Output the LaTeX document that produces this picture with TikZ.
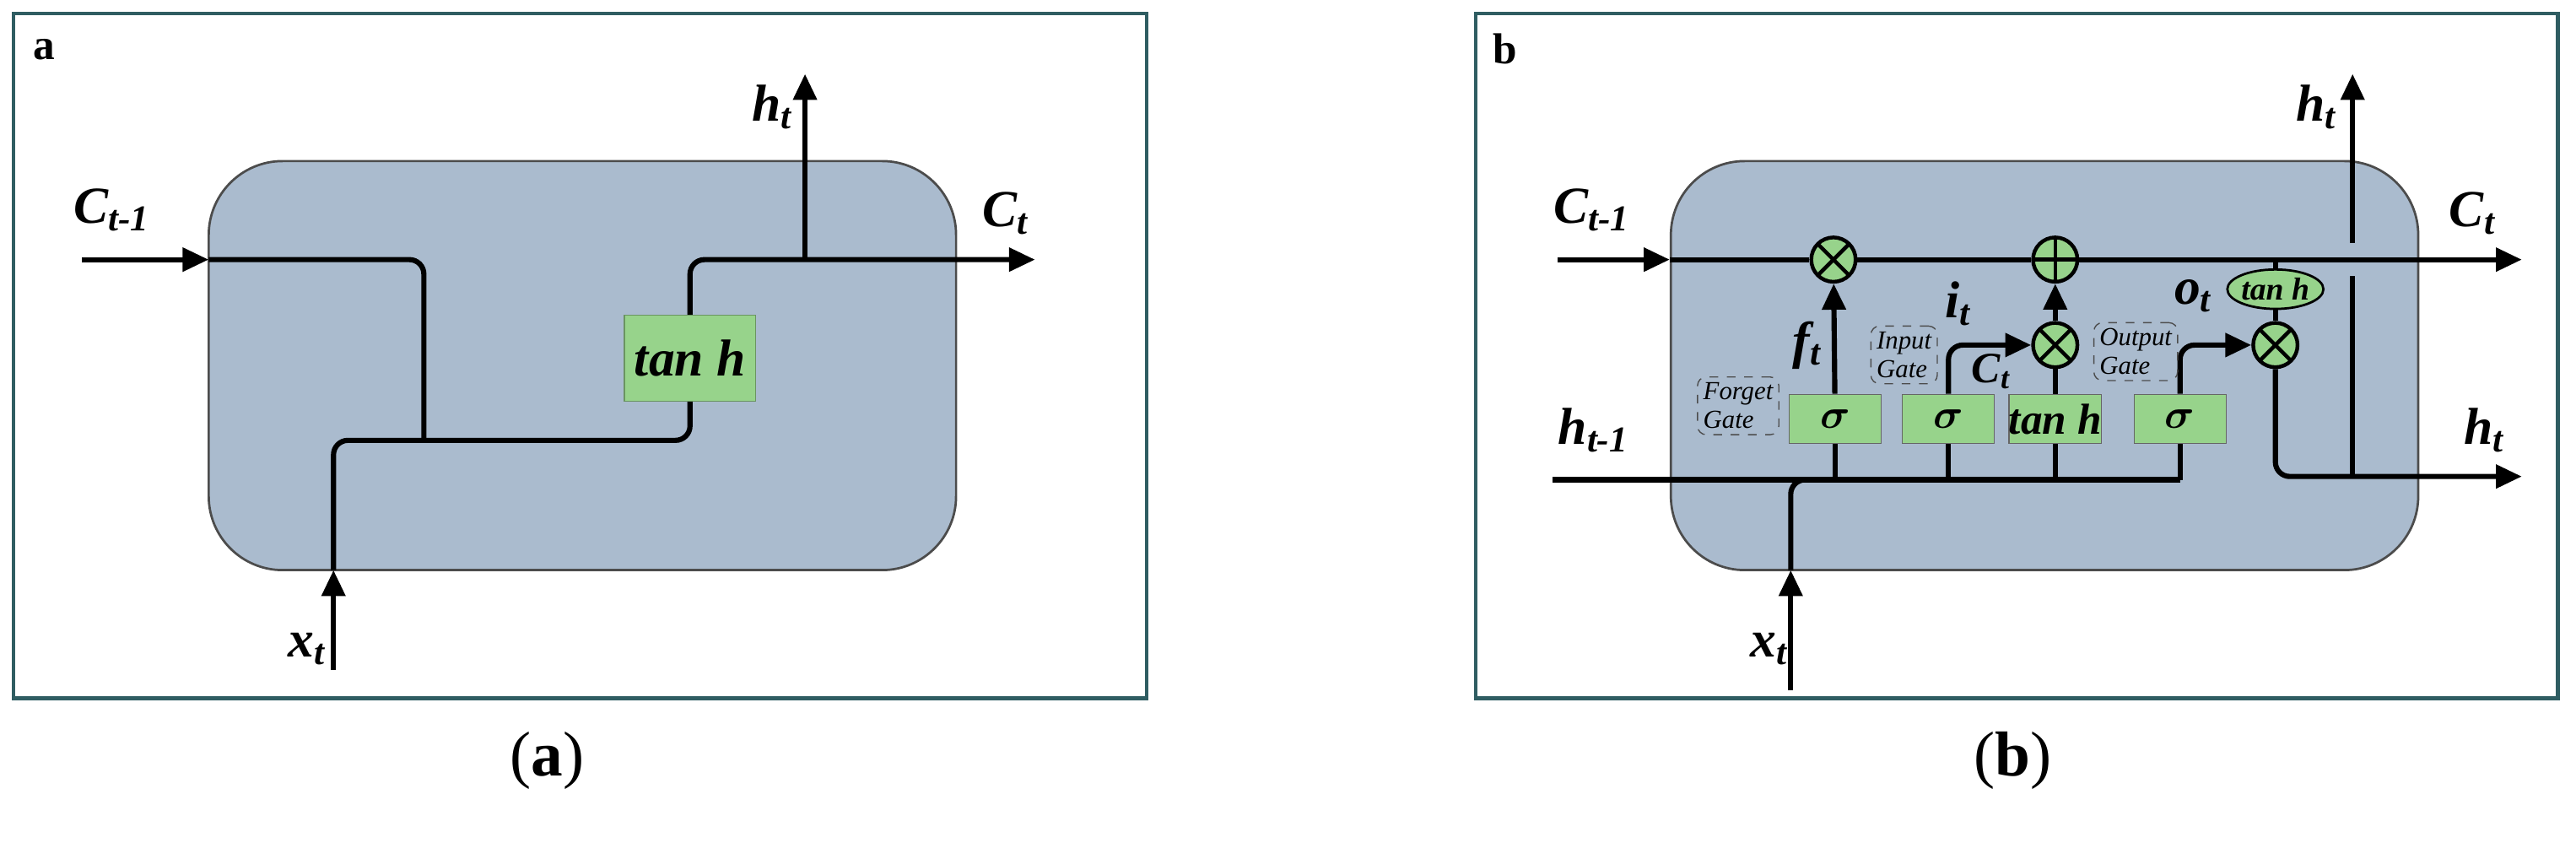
\documentclass[tikz,border=0pt]{standalone}
\usepackage{amsmath}
\usepackage{fontspec}
\setmainfont{Liberation Serif}
\usetikzlibrary{arrows.meta,positioning,shapes.geometric}
\definecolor{cellfill}{HTML}{AABBCE}
\definecolor{gatefill}{HTML}{97D38B}
\definecolor{framecol}{HTML}{2F5D62}
\newcommand{\lbl}[2]{\textbf{\textit{#1\textsubscript{#2}}}}
\tikzset{
	frame/.style = {draw = framecol, line width = 1.2pt},
	cell/.style = {draw = black!70, fill = cellfill, rounded corners = 0.9cm, line width = 0.8pt,
		minimum width = 9.1cm, minimum height = 4.98cm, inner sep = 0pt},
	wire/.style = {line width = 1.8pt, rounded corners = 5pt},
	flow/.style = {wire, -{Triangle[length = 9pt, width = 8pt]}},
	gate/.style = {draw = black!60, fill = gatefill, minimum width = 1.12cm, minimum height = 0.6cm,
		inner sep = 0pt, font = \fontsize{15}{15}\selectfont\bfseries\itshape},
	mult/.style = {circle, draw, fill = gatefill, line width = 1.3pt, minimum size = 0.54cm, inner sep = 0pt,
		path picture = {\draw [line width = 1.3pt] (path picture bounding box.north west) -- (path picture bounding box.south east)
			(path picture bounding box.north east) -- (path picture bounding box.south west);}},
	plus/.style = {mult, path picture = {\draw [line width = 1.3pt] (path picture bounding box.north) -- (path picture bounding box.south)
			(path picture bounding box.east) -- (path picture bounding box.west);}},
	note/.style = {draw = black!70, dashed, rounded corners = 3pt, align = left, inner sep = 2pt,
		font = \fontsize{9}{10}\selectfont\itshape},
	tag/.style = {font = \fontsize{18}{18}\selectfont}
}
\begin{document}
\begin{tikzpicture}[x = 0.02cm, y = -0.02cm]
	\useasboundingbox (0,0) rectangle (1568,512.6);
	% panel a
	\node [frame, minimum width = 13.8cm, minimum height = 8.34cm] (frameA) at (353,216.5) {};
	\node [font = \fontsize{15}{15}\selectfont\bfseries] (nameA) at (27,30) {a};
	\node [cell] (cellA) at (354.5,222.5) {};
	\coordinate (cinA) at (50,158);
	\coordinate (cjA) at (127,158);
	\coordinate (xinA) at (203,408);
	\coordinate (xjA) at (203,347);
	\coordinate (hjA) at (490,158);
	\coordinate (houtA) at (490,45);
	\coordinate (coutA) at (630,158);
	\draw [flow] (cinA) -- (cjA);
	\draw [wire] (cjA) -- (258,158) -- (258,268);
	\draw [flow] (xinA) -- (xjA);
	\draw [wire, -{Triangle[length = 9pt, width = 8pt]}] (xjA) -- (203,268) -- (420,268) -- (420,158) -- (coutA);
	\draw [flow] (hjA) -- (houtA);
	\node [gate, minimum width = 1.6cm, minimum height = 1.05cm, draw = gatefill!70!black,
		font = \fontsize{18}{18}\selectfont\bfseries\itshape] (tanhA) at (420,218) {tan h};
	\node [tag] at (68,128) {\lbl{C}{t-1}};
	\node [tag] at (470,65) {\lbl{h}{t}};
	\node [tag] at (612,130) {\lbl{C}{t}};
	\node [tag] at (187,395) {\lbl{x}{t}};
	\node [font = \fontsize{22}{22}\selectfont] (capA) at (333,463) {(\textbf{a})};
	% panel b
	\node [frame, minimum width = 13.18cm, minimum height = 8.34cm] (frameB) at (1227.5,216.5) {};
	\node [font = \fontsize{15}{15}\selectfont\bfseries] (nameB) at (916,30) {b};
	\node [cell] (cellB) at (1244.5,222.5) {};
	\node [mult] (fmul) at (1116,158) {};
	\node [plus] (cadd) at (1251,158) {};
	\node [mult] (imul) at (1251,210) {};
	\node [mult] (omul) at (1385,210) {};
	\node [ellipse, draw, fill = gatefill, line width = 0.8pt, minimum width = 1.02cm, minimum height = 0.48cm, inner sep = 0pt,
		font = \fontsize{11}{11}\selectfont\bfseries\itshape] (otanh) at (1385,176) {tan h};
	\node [gate] (fgate) at (1117,255) {$\boldsymbol{\sigma}$};
	\node [gate] (igate) at (1186,255) {$\boldsymbol{\sigma}$};
	\node [gate] (cgate) at (1251,255) {tan h};
	\node [gate] (ogate) at (1327,255) {$\boldsymbol{\sigma}$};
	\coordinate (cinB) at (948,158);
	\coordinate (coutB) at (1535,158);
	\coordinate (hinB) at (945,292);
	\coordinate (hendB) at (1327,292);
	\coordinate (xinB) at (1090,420);
	\coordinate (xjB) at (1090,347);
	\coordinate (hupB) at (1432,45);
	\coordinate (houtB) at (1535,290);
	\draw [flow] (cinB) -- (cellB.west |- cinB);
	\draw [wire] (cellB.west |- cinB) -- (fmul) -- (cadd) -- (1385,158);
	\draw [flow] (1385,158) -- (coutB);
	\draw [wire] (hinB) -- (hendB);
	\draw [flow] (xinB) -- (xjB);
	\draw [wire] (xjB) -- (1090,292) -- (1110,292);
	\foreach \g in {fgate, igate, cgate, ogate}{
		\draw [wire] (\g.south) -- (\g.south |- hinB);
	}
	\draw [flow] (fgate) -- (fmul);
	\draw [flow] (imul) -- (cadd);
	\draw [wire] (cgate) -- (imul);
	\draw [flow] (igate.north) -- (1186,210) -- (imul);
	\draw [flow] (ogate.north) -- (1327,210) -- (omul);
	\draw [wire] (1385,158) -- (otanh) -- (omul);
	\draw [flow] (omul) -- (1385,290) -- (houtB);
	\draw [wire] (1432,290) -- (1432,168);
	\draw [flow] (1432,148) -- (hupB);
	\node [note] (fnote) at (1058,247) {Forget\\Gate};
	\node [note] (inote) at (1159,216) {Input\\Gate};
	\node [note] (onote) at (1300,214) {Output\\Gate};
	\node [tag] at (969,128) {\lbl{C}{t-1}};
	\node [tag] at (1100,210) {\lbl{f}{t}};
	\node [tag] at (1192,185) {\lbl{i}{t}};
	\node [tag, font = \fontsize{15}{15}\selectfont] at (1212,226) {\lbl{C}{t}};
	\node [tag] at (1335,180) {\lbl{o}{t}};
	\node [tag] at (1410,65) {\lbl{h}{t}};
	\node [tag] at (1505,130) {\lbl{C}{t}};
	\node [tag] at (970,262) {\lbl{h}{t-1}};
	\node [tag] at (1512,262) {\lbl{h}{t}};
	\node [tag] at (1077,395) {\lbl{x}{t}};
	\node [font = \fontsize{22}{22}\selectfont] (capB) at (1225,463) {(\textbf{b})};
\end{tikzpicture}
\end{document}
